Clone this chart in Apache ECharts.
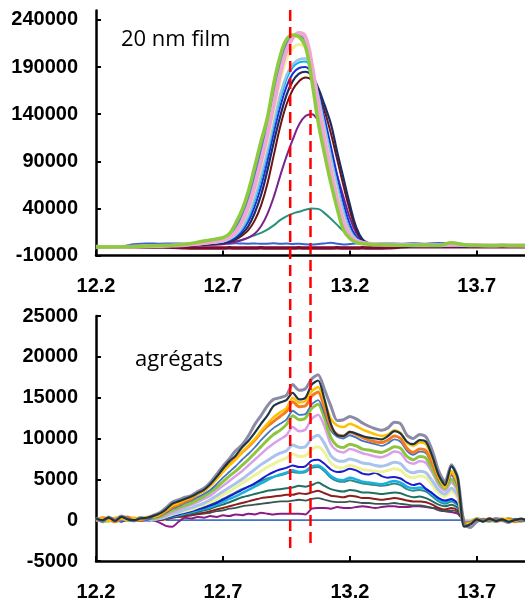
<!DOCTYPE html>
<html><head><meta charset="utf-8">
<script src="https://cdn.jsdelivr.net/npm/echarts@6/dist/echarts.min.js"></script>
<style>html,body{margin:0;padding:0;background:#fff}#c{width:525px;height:602px}</style>
</head><body><div id="c"></div>
<script>
// ---------- DATA ----------
const xTickLabels = [12.2, 12.7, 13.2, 13.7];
const topYTickLabels = [-10000, 40000, 90000, 140000, 190000, 240000];
const bottomYTickLabels = [-5000, 0, 5000, 10000, 15000, 20000, 25000];
const topTitle = '20 nm film';
const bottomTitle = 'agrégats';
const markerX = [12.965, 13.045];
const markerFrom = [0, 0.0093];
const markerTo = [1, 0.814];

const xTop = [12.2,12.25,12.3,12.35,12.4,12.45,12.5,12.55,12.6,12.65,
  12.7,12.725,12.75,12.775,12.8,12.825,12.85,12.875,12.9,12.925,12.95,12.975,13.0,13.025,13.05,13.075,13.1,13.125,13.15,13.175,13.2,13.225,13.25,13.275,13.3,
  13.35,13.4,13.45,13.5,13.55,13.6,13.65,13.7,13.75,13.8,13.85,13.9];

const topMaroon = [-800,-600,-700,-800,-900,-1000,-1200,-1800,-2000,-2000,-2000,-1900,-2000,-2000,-2100,-2000,-1900,-2000,-2000,-2100,-2000,-2000,-1900,-2000,-2000,-2000,-2100,-2000,-1900,-2000,-2000,-2000,-1900,-2000,-2000,-1800,-1000,-800,-700,-800,-700,-800,-600,-700,-800,-600,-700];
const topFlatBlue = [-500,-300,0,2000,2800,2500,2800,2600,3000,2500,2800,2600,3000,2700,2500,2800,2400,2600,2900,2500,2700,2300,2500,2000,1800,2200,2800,3500,2500,1800,2200,2800,2600,2200,2500,2800,2500,3000,2600,3200,2800,800,null,null,null,null,null];
const topTeal = [-1000,-800,-800,-600,-500,-200,200,600,1200,1800,2500,3500,5000,6500,9000,11500,14000,17500,22000,27500,31500,34500,36500,38500,40000,39500,35000,29000,22500,16000,11500,8000,5000,3000,2000,1000,500,500,300,500,300,200,300,200,200,300,200];
const topPurple = [-1200,-1300,-1200,-1000,-1000,-800,-500,0,600,1300,2000,3000,4500,6500,9000,13000,21000,34000,52000,74000,95000,113000,129000,138000,140000,133000,118000,98000,75000,52000,30000,14000,5000,2500,1500,500,0,0,-300,0,-200,0,0,-200,0,0,0];
const topDarkRed = [-1500,-1500,-1200,-1200,-1000,-700,-300,300,1000,2000,3000,4500,7000,11000,17000,27000,43000,66000,96000,126000,150000,166000,175000,179000,176000,163000,144000,120000,92000,64000,38000,17000,6000,2500,1500,500,0,-300,-500,-300,0,-300,0,-200,0,-200,0];
const topNavy = [-1500,-1200,-1200,-1000,-800,-500,0,600,1400,2400,3500,5000,8000,13000,21000,35000,54000,80000,110000,137000,160000,175000,183000,185000,181000,168000,150000,130000,100000,72000,44000,20000,7000,3000,1500,500,0,-500,0,-800,0,-500,0,-300,0,-200,0];
const topBlue = [-1200,-1000,-1000,-800,-500,0,400,1000,1800,2800,4000,6000,9500,16000,26000,42000,63000,90000,120000,147000,169000,183000,189000,190000,183000,163000,136000,106000,75000,46000,23000,10000,4500,2500,1500,1000,800,600,800,500,1000,500,300,400,300,200,300];
const topCyan = [-1000,-900,-700,-500,-200,200,600,1200,2200,3300,4500,7000,11000,18000,30000,48000,71000,98000,128000,155000,177000,190000,195000,196000,186000,160000,129000,97000,66000,38000,18000,8000,4000,2500,2000,1500,1000,800,1000,600,1200,800,500,600,400,500,500];
const topLightBlue = [-1000,-800,-600,-400,0,300,800,1500,2600,3800,5000,7500,12000,20000,33000,52000,76000,103000,133000,160000,181000,193000,198000,199000,188000,160000,127000,94000,63000,35000,16000,7000,3500,2500,2000,1500,1000,1200,1000,800,1500,1000,600,500,500,600,400];
const topPaleYellow = [-800,-800,-600,-500,-200,200,600,1200,2300,3800,5500,8500,14000,24000,39000,60000,85000,112000,143000,174000,198000,210000,214000,210000,188000,152000,117000,84000,54000,28000,13000,6000,3500,2500,2000,1500,1200,1000,1000,800,1200,1000,800,600,500,500,400];
const topRoyal = [-1000,-700,-800,-500,-200,300,800,1600,3200,5200,7500,11000,19000,32000,50000,75000,101000,128000,162000,193000,214000,223000,223000,215000,184000,141000,105000,73000,44000,20000,9000,4500,3000,2000,1500,1000,800,1000,800,600,1200,800,500,500,400,600,500];
const topPink = [-800,-1000,-1000,-700,-300,200,600,1200,2500,4000,6000,9000,15000,26000,42000,64000,90000,118000,150000,182000,207000,221000,226000,222000,193000,150000,113000,80000,50000,26000,12000,6000,3500,2500,2000,1500,1200,1000,800,1000,1500,1200,800,600,800,600,500];
const topGreen = [-1000,-1000,-800,-500,0,500,1000,2000,4000,6500,9000,13000,24000,38000,58000,84000,111000,136000,172000,201000,219000,224000,222000,212000,176000,132000,98000,67000,40000,17000,8000,4000,2500,2000,1500,1500,1000,1000,1200,800,3500,1500,800,500,800,500,800];

const xBottom = [12.2,12.225,12.25,12.275,12.3,12.325,12.35,12.375,12.4,12.425,12.45,12.475,12.5,12.525,12.55,12.575,12.6,12.625,12.65,12.675,12.7,12.725,12.75,12.775,12.8,12.825,12.85,12.875,12.9,12.925,12.95,12.975,13.0,13.025,13.05,13.075,13.1,13.125,13.15,13.175,13.2,13.225,13.25,13.275,13.3,13.325,13.35,13.375,13.4,13.425,13.45,13.475,13.5,13.525,13.55,13.575,13.6,13.625,13.65,13.675,13.7,13.725,13.75,13.775,13.8,13.825,13.85,13.875,13.9];

const botFlat = [null,null,null,null,null,null,null,null,null,null,null,0,0,0,0,0,0,0,0,0,0,0,0,0,0,0,0,0,0,0,0,0,0,0,0,0,0,0,0,0,0,0,0,0,0,0,0,0,0,0,0,0,0,0,0,0,0,0,0,null,null,null,null,null,null,null,null,null,null];
const botPurple = [0,100,0,-100,0,100,0,0,-100,0,-300,-700,-800,-200,300,200,400,300,500,400,600,500,700,600,800,700,900,800,700,800,800,800,800,700,1400,1500,1500,1400,1600,1500,1500,1600,1700,1600,1500,1600,1700,1700,1600,1600,1700,1700,1600,1500,1400,1100,1000,800,0,0,0,0,0,0,0,0,0,0,0];
const botDarkGreen = [-100,100,0,0,100,0,100,-100,0,100,100,200,300,400,500,600,700,800,900,1100,1200,1400,1500,1700,1800,1900,2000,2100,2200,2300,2300,2400,2500,2400,2600,2700,2500,2300,2200,2200,2300,2200,2100,2100,2000,2000,2000,2100,2000,1900,1800,1800,1700,1500,1200,1100,1200,1000,0,0,0,0,100,0,0,0,0,0,0];
const botDarkRed = [0,0,100,0,-100,100,0,0,100,100,0,100,300,400,500,600,800,900,1100,1300,1500,1700,1900,2100,2300,2500,2700,2800,2900,3000,3100,3100,3300,3200,3400,3600,3300,3000,2900,2800,3000,2900,2700,2700,2600,2500,2600,2700,2600,2400,2300,2300,2200,1900,1500,1300,1500,1200,0,0,0,100,0,0,0,-100,0,0,0];
const botDarkTeal = [100,0,-100,100,200,0,0,100,200,0,100,200,400,500,700,800,1000,1200,1400,1700,1900,2200,2500,2800,3000,3200,3400,3600,3700,3800,3900,4000,4200,4100,4300,4600,4200,3800,3600,3500,3700,3600,3400,3400,3300,3200,3300,3400,3300,3000,2800,2900,2700,2300,1900,1700,1900,1500,0,0,100,-100,0,100,0,0,-100,0,100];
const botTeal = [0,100,0,200,0,-100,100,200,0,100,100,300,500,700,900,1100,1300,1600,1900,2200,2600,3000,3400,3800,4100,4400,4800,5100,5300,5500,5700,5900,5800,5900,6400,6500,6000,5200,4800,4700,4900,4700,4500,4400,4300,4200,4300,4500,4300,3800,3600,3700,3500,2900,2300,2000,2300,1800,0,-100,0,100,0,0,-100,0,100,0,0];
const botCyan = [100,0,100,-100,0,200,0,100,0,100,200,300,500,600,800,1000,1200,1400,1600,1900,2200,2600,2900,3300,3700,4100,4500,4900,5300,5600,5800,6100,5900,6000,6600,6700,6200,5400,5000,4900,5200,5000,4700,4600,4500,4400,4600,4800,4600,4100,3900,4000,3800,3200,2500,2200,2500,2000,0,0,100,0,0,-100,0,100,0,0,0];
const botBlue = [-100,200,0,100,-200,100,200,0,100,0,100,300,500,700,900,1100,1300,1500,1800,2100,2500,2900,3300,3700,4100,4500,5000,5500,5900,6200,6400,6700,6500,6600,7300,7400,6900,6200,5900,6000,6300,6100,5700,5600,5800,5400,5200,5300,5100,4600,4300,4500,3800,3300,2700,2400,2600,2000,0,-100,0,100,-100,0,0,100,0,0,0];
const botPaleYellow = [0,100,-100,100,200,100,0,200,100,100,200,400,700,900,1100,1300,1600,1900,2200,2600,3100,3500,4000,4500,5000,5500,6000,6500,6900,7300,7600,8100,7800,7900,8700,9000,8300,7000,6500,6400,6700,6500,6200,6100,6000,5900,6100,6300,6100,5400,5200,5400,5200,4300,3300,2900,3500,2700,0,0,100,0,-100,0,100,0,0,100,0];
const botLightBlue = [100,-100,0,200,100,0,200,100,0,200,200,500,800,1000,1300,1500,1800,2100,2500,3000,3500,4000,4500,5000,5600,6200,6800,7300,7800,8200,8500,9200,8900,9000,10000,10400,9400,7900,7300,7200,7500,7300,7000,6900,6700,6600,6800,7100,6900,6100,5800,6000,5800,4800,3700,3200,3900,3000,0,-100,0,100,0,-100,0,100,0,0,-100];
const botViolet = [0,100,200,100,0,200,300,100,100,200,300,600,1000,1300,1600,1900,2200,2600,3000,3600,4200,4800,5400,6000,6700,7400,8100,8800,9400,9900,10400,11400,10900,11100,12400,12900,11500,9300,8500,8300,8700,8500,8200,8000,7800,7700,8000,8400,8200,7200,6900,7200,7000,5800,4300,3600,4600,3500,0,-200,100,0,0,100,-100,0,100,0,0];
const botGreen = [200,0,-100,200,300,0,100,300,200,200,400,800,1200,1500,1800,2100,2500,2900,3400,4000,4700,5400,6000,6700,7400,8200,9000,9800,10500,11000,11700,12800,12300,12500,13700,14200,12500,10100,9100,8900,9300,9100,8700,8600,8400,8300,8600,9000,8800,7800,7400,7800,7600,6200,4600,3900,5000,3800,-200,-300,200,0,-100,100,0,200,0,-100,100];
const botRoyal = [-100,100,200,0,-100,300,200,100,0,300,500,900,1400,1700,2100,2400,2800,3200,3700,4400,5200,5900,6600,7400,8100,8900,9800,10600,11300,11800,12300,13400,12900,13000,14200,14700,13100,11000,10200,10000,10400,10100,9700,9500,9300,9100,9400,9900,9600,8500,8000,8400,8200,6800,4900,4000,5500,4200,-300,-200,0,100,0,-200,100,0,100,-100,0];
const botOrange = [0,300,100,-200,200,400,100,0,300,500,600,1100,1600,1900,2300,2600,3200,3600,4300,5100,6000,6800,7500,8300,9000,9800,10700,11500,12100,12700,13300,14500,13900,14000,15200,15700,13800,11400,10500,10300,10800,10500,10100,9800,9600,9500,9800,10300,10000,8800,8300,8700,8500,7000,5100,4600,5900,4400,-400,-300,100,0,200,-100,0,100,-200,0,100];
const botGold = [100,200,-100,300,200,0,300,100,400,400,700,1200,1800,2100,2500,2800,3200,3600,4200,5000,5900,6700,7400,8300,9100,9900,10900,11800,12600,13200,13700,15000,14400,14600,15800,16300,14600,12400,11600,11400,11800,11500,11100,10800,10500,10300,10500,11000,10700,9500,9100,9500,9300,7600,5300,4000,6000,4600,-500,-400,0,100,-100,0,200,0,-100,100,0];
const botGray = [300,-200,400,0,500,200,-100,300,200,600,900,1500,2200,2500,2800,3000,3500,3900,4600,5600,6600,7500,8500,9200,10300,11700,12800,14000,14800,15000,15300,16600,15900,16100,17300,17800,16000,14000,12200,12300,12700,12400,11900,11500,11200,11000,11300,12000,11800,10400,10000,10500,10200,8500,6000,4700,6800,5200,-400,-900,-200,100,-100,200,0,-300,100,-100,0];
const botSlate = [200,0,300,-100,400,100,0,200,300,500,800,1300,2000,2300,2600,2900,3300,3700,4400,5300,6300,7200,7900,8900,9700,10700,11800,12800,14000,14400,14700,15600,14800,15000,16600,17100,14800,11800,10400,10300,10800,10600,10300,10100,10000,9900,10300,10900,10600,9600,9300,9800,9600,7800,5500,4300,6600,5200,-800,-500,100,-200,200,-100,100,-200,0,200,-100];

// ---------- STYLES ----------
const topSeriesList = [
  [topMaroon, '#7A0C2E', 3.5], [topFlatBlue, '#3D5FD0', 2], [topTeal, '#2A9080', 2],
  [topPurple, '#7A2190', 2], [topDarkRed, '#6E1414', 2], [topNavy, '#1D2B60', 2.2],
  [topBlue, '#1C2FD6', 2], [topCyan, '#00B4F0', 2], [topLightBlue, '#9DC3E6', 2.5],
  [topPaleYellow, '#F2F0A0', 3], [topRoyal, '#4B7BD3', 2.5], [topPink, '#F1A7D6', 4],
  [topGreen, '#8DCB3E', 3.5]
];
const botSeriesList = [
  [botFlat, '#4472C4', 1.6], [botPurple, '#8A1A88', 2], [botDarkGreen, '#36564F', 1.8],
  [botDarkRed, '#8B1E1E', 2], [botDarkTeal, '#1F7060', 2], [botTeal, '#2E8C8C', 2],
  [botCyan, '#1CB0E0', 2.5], [botBlue, '#1A1AD0', 2], [botPaleYellow, '#EEF29A', 3],
  [botLightBlue, '#A8C4EC', 3], [botViolet, '#D9A0EA', 2.5], [botGreen, '#8CC63F', 3],
  [botRoyal, '#4472C4', 1.8], [botOrange, '#F47B20', 3], [botGold, '#FFC000', 2.5],
  [botGray, 'rgba(110,110,145,0.8)', 3], [botSlate, '#1C3444', 2.2]
];

const labelFont = {color:'#000', fontFamily:'Liberation Sans', fontWeight:'bold', fontSize:20};
const axisLine = {show:true, onZero:false, lineStyle:{color:'#000', width:2.5}};
const tickStyle = {show:true, inside:true, length:5, lineStyle:{color:'#000', width:2}};

function xAxisFor(gi) {
  return {type:'value', gridIndex:gi, min:12.2, max:13.89, axisLine:axisLine,
    axisTick:Object.assign({customValues:xTickLabels}, tickStyle),
    axisLabel:Object.assign({customValues:xTickLabels, margin:21, formatter:v=>v.toFixed(1)}, labelFont),
    splitLine:{show:false}};
}

const series = [];
topSeriesList.forEach(([arr, c, w]) => series.push({
  type:'line', xAxisIndex:0, yAxisIndex:0, symbol:'none', smooth:0.4, connectNulls:false,
  lineStyle:{color:c, width:w}, data:xTop.map((x,i)=>[x, arr[i]])}));
botSeriesList.forEach(([arr, c, w]) => series.push({
  type:'line', xAxisIndex:1, yAxisIndex:1, symbol:'none', smooth:0.25,
  lineStyle:{color:c, width:w}, data:xBottom.map((x,i)=>[x, arr[i]])}));
markerX.forEach((x,i) => series.push({
  type:'line', xAxisIndex:2, yAxisIndex:2, symbol:'none', z:10,
  lineStyle:{color:'#FF0000', width:2.5, type:[11,6]},
  data:[[x, markerFrom[i]], [x, markerTo[i]]]}));

const chart = echarts.init(document.getElementById('c'), null, {renderer:'canvas'});
chart.setOption({
  animation:false,
  backgroundColor:'#fff',
  grid:[
    {left:96, right:0, top:10.5, height:245},
    {left:96, right:0, top:316, height:245},
    {left:96, right:0, top:10, height:538}
  ],
  xAxis:[xAxisFor(0), xAxisFor(1),
    {type:'value', gridIndex:2, min:12.2, max:13.89, show:false}],
  yAxis:[
    {type:'value', gridIndex:0, min:-10000, max:250000, axisLine:axisLine,
      axisTick:Object.assign({customValues:topYTickLabels}, tickStyle),
      axisLabel:Object.assign({customValues:topYTickLabels, margin:18, formatter:v=>String(v)}, labelFont),
      splitLine:{show:false}},
    {type:'value', gridIndex:1, min:-5000, max:25000, interval:5000, axisLine:axisLine,
      axisTick:tickStyle,
      axisLabel:Object.assign({margin:18, formatter:v=>String(v)}, labelFont),
      splitLine:{show:false}},
    {type:'value', gridIndex:2, min:0, max:1, show:false}
  ],
  graphic:[
    {type:'text', left:121, top:29, style:{text:topTitle, font:'22px "Open Sans"', fill:'#000'}},
    {type:'text', left:135, top:349, style:{text:bottomTitle, font:'22px "Open Sans"', fill:'#000'}}
  ],
  series:series
});
</script></body></html>
